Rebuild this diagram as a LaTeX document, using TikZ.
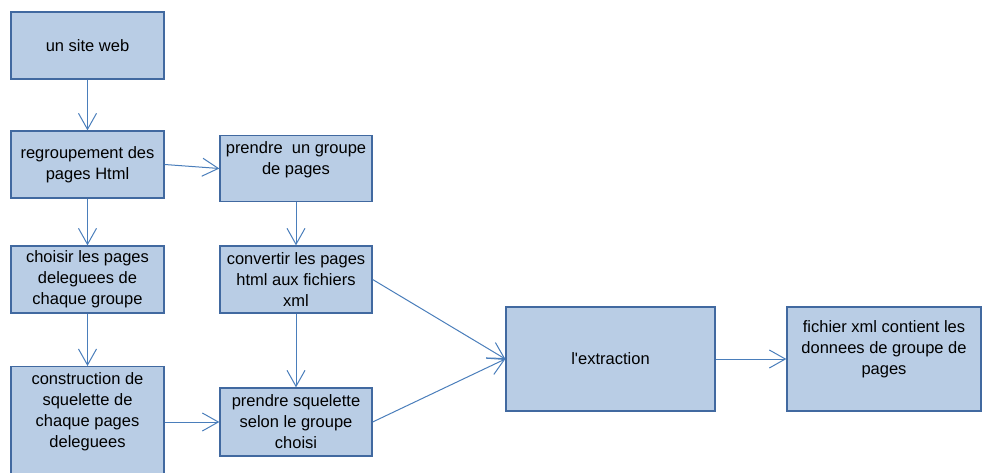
\documentclass[tikz,border=0pt]{standalone}
\usepackage{fontspec}
\setmainfont{Liberation Sans}
\usetikzlibrary{arrows.meta}
\definecolor{boxfill}{RGB}{185,205,229}
\definecolor{boxline}{RGB}{65,105,160}
\definecolor{linkcol}{RGB}{74,126,187}
\begin{document}
\begin{tikzpicture}[x=1pt,y=-1pt,
  stage/.style={draw=boxline, fill=boxfill, line width=1.3pt, rectangle,
    align=center, inner sep=0pt, text=black,
    font=\fontsize{16.5}{21}\selectfont},
  leftcol/.style={stage, minimum width=153pt, minimum height=67pt},
  midcol/.style={stage, minimum width=152pt, minimum height=67pt},
  bigbox/.style={stage, minimum height=104pt},
  label text/.style={align=center, inner sep=0pt, text=black,
    font=\fontsize{16.5}{21}\selectfont},
  link/.style={draw=linkcol, line width=1pt,
    -{Straight Barb[length=16pt,width=18pt,line width=1pt]}}]
\useasboundingbox (0,0) rectangle (984,473);

% left column
\node[leftcol] (site) at (87.5,45.5) {un site web};
\node[leftcol] (regroup) at (87.5,164.5) {regroupement des\\pages Html};
\node[leftcol] (choisir) at (87.5,279.5) {choisir les pages\\deleguees de\\chaque groupe};
\node[leftcol, minimum height=120pt, anchor=north] (constr) at (87.5,366) {};
\node[label text] (constrtxt) at (87.5,411.7)
  {construction de\\squelette de\\chaque pages\\deleguees};

% middle column
\node[midcol, minimum height=66pt] (prendre) at (296,168.5) {};
\node[label text] (prendretxt) at (296,159.7) {prendre~ un groupe\\de pages};
\node[midcol] (convertir) at (296,279.5) {convertir les pages\\html aux fichiers\\xml};
\node[midcol, minimum height=68pt] (squel) at (296,422) {prendre squelette\\selon le groupe\\choisi};

% right part
\node[bigbox, minimum width=209pt] (extr) at (610.5,359) {l\textquotesingle extraction};
\node[bigbox, minimum width=194pt] (result) at (884,359) {};
\node[label text] (resulttxt) at (884,349.7)
  {fichier xml contient les\\donnees de groupe de\\pages};

% connectors
\draw[link] (site) -- (regroup);
\draw[link] (regroup) -- (choisir);
\draw[link] (choisir) -- (constr);
\draw[link] (regroup.east) -- (prendre.west);
\draw[link] (prendre) -- (convertir);
\draw[link] (convertir) -- (squel);
\draw[link] (constr.east |- squel.west) -- (squel.west);
\draw[link] (convertir.east) -- (extr.west);
\draw[link] (squel.east) -- (extr.west);
\draw[link] (extr.east) -- (result.west);
\end{tikzpicture}
\end{document}
